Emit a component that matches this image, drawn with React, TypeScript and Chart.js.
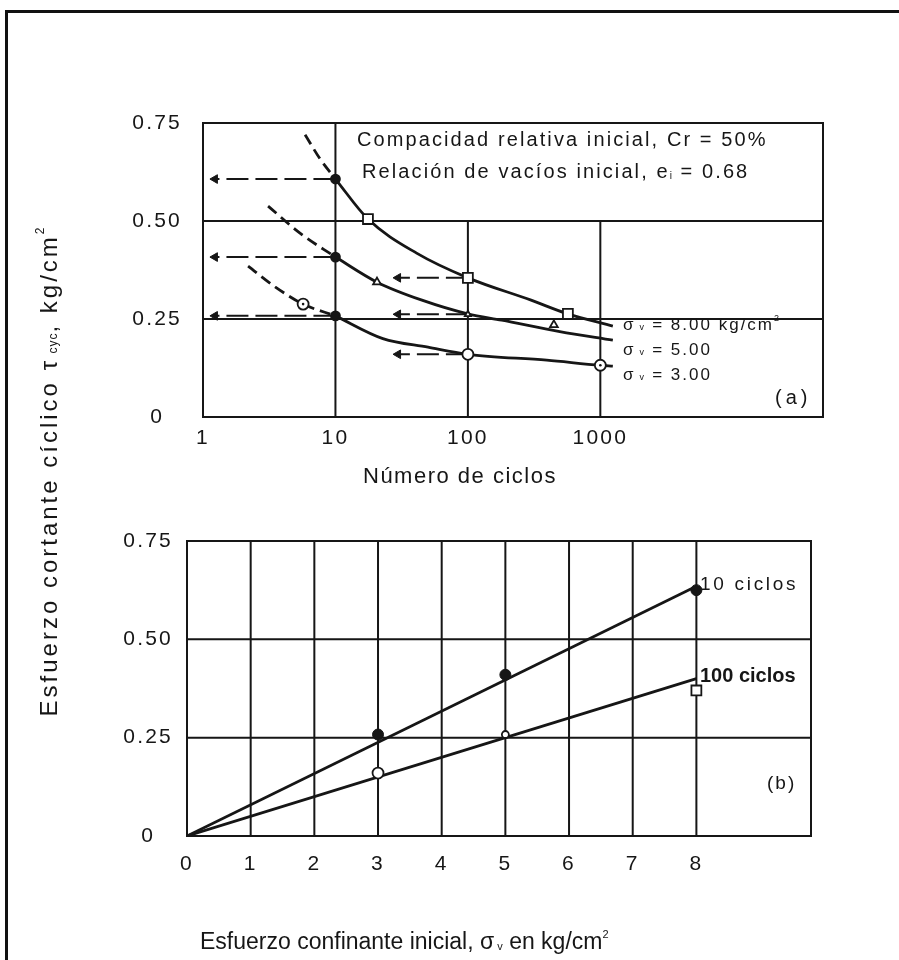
import React, { useEffect, useRef } from 'react';
import { Chart, registerables } from 'chart.js';

Chart.register(...registerables);

// ---------- shared ----------
const FONT = "'Liberation Sans', Arial, sans-serif";
const INK = '#161616';
const yTicks = [0, 0.25, 0.5, 0.75];

// ---------- (a) cyclic shear stress vs number of cycles ----------
const nTicks = [1, 10, 100, 1000];
const sigmaLabels = ['8.00', '5.00', '3.00'];

// sigma_v = 8.00
const s8DashN = [5.9, 7.6, 10];
const s8DashT = [0.72, 0.66, 0.607];
const s8N = [10, 17.6, 41, 100, 300, 569, 1243];
const s8T = [0.607, 0.505, 0.418, 0.355, 0.298, 0.263, 0.232];
// sigma_v = 5.00
const s5DashN = [3.1, 5.4, 10];
const s5DashT = [0.538, 0.469, 0.408];
const s5N = [10, 20.6, 45, 100, 180, 494, 1243];
const s5T = [0.408, 0.344, 0.298, 0.263, 0.247, 0.218, 0.196];
// sigma_v = 3.00
const s3DashN = [2.19, 3.5, 5.7, 10];
const s3DashT = [0.385, 0.332, 0.288, 0.258];
const s3N = [10, 22.8, 50, 100, 394, 1000, 1243];
const s3T = [0.258, 0.2, 0.178, 0.16, 0.145, 0.132, 0.13];

// markers
const filledN = [10, 10, 10];
const filledT = [0.607, 0.408, 0.258];
const squareN = [17.6, 100, 569];
const squareT = [0.505, 0.355, 0.263];
const triangleN = [20.6, 100, 446];
const triangleT = [0.344, 0.262, 0.235];
const openCircleN = [5.7, 100, 1000];
const openCircleT = [0.288, 0.16, 0.132];
const dotN = [5.7, 1000];
const dotT = [0.288, 0.132];

// dashed arrows (read-off lines)
const arrowT = [0.607, 0.408, 0.258, 0.355, 0.262, 0.16];
const arrowFrom = [10, 10, 10, 100, 100, 100];
const arrowTo = [1.23, 1.23, 1.23, 29.7, 29.7, 29.7];

// ---------- (b) cyclic shear stress vs confining stress ----------
const sigmaTicks = [0, 1, 2, 3, 4, 5, 6, 7, 8];
const line10X = [0, 8];
const line10Y = [0, 0.635];
const line100X = [0, 8];
const line100Y = [0, 0.4];
const pts10X = [3, 5, 8];
const pts10Y = [0.258, 0.41, 0.625];
const pts100X = [3, 5, 8];
const pts100Y = [0.16, 0.258, 0.37];

const xy = (xs: number[], ys: number[]) => xs.map((x, i) => ({ x, y: ys[i] }));

type Part = { t: string; size: number; dy?: number; bold?: boolean; sp?: number };

function partsWidth(ctx: CanvasRenderingContext2D, parts: Part[]) {
  let w = 0;
  for (const p of parts) {
    ctx.font = `${p.bold ? 'bold ' : ''}${p.size}px ${FONT}`;
    (ctx as any).letterSpacing = `${p.sp ?? 0}px`;
    w += ctx.measureText(p.t).width;
  }
  return w;
}

function drawParts(ctx: CanvasRenderingContext2D, x: number, y: number, parts: Part[]) {
  let cx = x;
  for (const p of parts) {
    ctx.font = `${p.bold ? 'bold ' : ''}${p.size}px ${FONT}`;
    (ctx as any).letterSpacing = `${p.sp ?? 0}px`;
    ctx.fillText(p.t, cx, y + (p.dy ?? 0));
    cx += ctx.measureText(p.t).width;
  }
}

const spacing = (sp: string) => ({
  id: 'spacing',
  beforeUpdate(chart: any) {
    chart.ctx.letterSpacing = sp;
  },
  beforeDraw(chart: any) {
    chart.ctx.letterSpacing = sp;
  },
});

const gridA = {
  id: 'gridA',
  beforeDatasetsDraw(chart: any) {
    const { ctx, chartArea: ca, scales } = chart;
    const x = scales.x;
    const y = scales.y;
    ctx.save();
    ctx.strokeStyle = INK;
    ctx.lineWidth = 2;
    ctx.strokeRect(ca.left, ca.top, ca.right - ca.left, ca.bottom - ca.top);
    ctx.beginPath();
    for (const v of yTicks.slice(1, 3)) {
      const py = y.getPixelForValue(v);
      ctx.moveTo(ca.left, py);
      ctx.lineTo(ca.right, py);
    }
    const p10 = x.getPixelForValue(nTicks[1]);
    ctx.moveTo(p10, ca.top);
    ctx.lineTo(p10, ca.bottom);
    const yHalf = y.getPixelForValue(yTicks[2]);
    for (const v of nTicks.slice(2)) {
      const px = x.getPixelForValue(v);
      ctx.moveTo(px, yHalf);
      ctx.lineTo(px, ca.bottom);
    }
    ctx.stroke();
    ctx.restore();
  },
};

const textA = {
  id: 'textA',
  afterDraw(chart: any) {
    const ctx: CanvasRenderingContext2D = chart.ctx;
    ctx.save();
    ctx.fillStyle = INK;
    ctx.textBaseline = 'middle';
    ctx.textAlign = 'left';
    drawParts(ctx, 357, 140, [{ t: 'Compacidad relativa inicial, Cr = 50%', size: 20, sp: 2.1 }]);
    drawParts(ctx, 362, 172, [
      { t: 'Relación de vacíos inicial, e', size: 20, sp: 2.1 },
      { t: 'i', size: 10, dy: 4, sp: 1 },
      { t: ' = 0.68', size: 20, sp: 2.1 },
    ]);
    const ys = [325, 350, 375];
    sigmaLabels.forEach((val, i) => {
      const parts: Part[] = [
        { t: 'σ', size: 17, sp: 2 },
        { t: ' v', size: 9, dy: 3, sp: 1.5 },
        { t: ' = ' + val, size: 17, sp: 2 },
      ];
      if (i === 0) {
        parts.push({ t: ' kg/cm', size: 17, sp: 2 });
        parts.push({ t: '2', size: 9, dy: -6 });
      }
      drawParts(ctx, 623, ys[i], parts);
    });
    drawParts(ctx, 775, 398, [{ t: '(a)', size: 20, sp: 4 }]);
    drawParts(ctx, 363, 477, [{ t: 'Número de ciclos', size: 22, sp: 1.5 }]);

    // shared y-axis title (rotated)
    const yParts: Part[] = [
      { t: 'Esfuerzo cortante cíclico τ', size: 24, sp: 3 },
      { t: ' cyc', size: 12, dy: 4, sp: 1 },
      { t: ', kg/cm', size: 24, sp: 3 },
      { t: '2', size: 12, dy: -9 },
    ];
    ctx.translate(50, 472);
    ctx.rotate(-Math.PI / 2);
    const w = partsWidth(ctx, yParts);
    drawParts(ctx, -w / 2, 0, yParts);
    ctx.restore();
  },
};

const gridB = {
  id: 'gridB',
  beforeDatasetsDraw(chart: any) {
    const { ctx, chartArea: ca, scales } = chart;
    const x = scales.x;
    const y = scales.y;
    ctx.save();
    ctx.strokeStyle = INK;
    ctx.lineWidth = 2;
    ctx.strokeRect(ca.left, ca.top, ca.right - ca.left, ca.bottom - ca.top);
    ctx.beginPath();
    for (const v of yTicks.slice(1, 3)) {
      const py = y.getPixelForValue(v);
      ctx.moveTo(ca.left, py);
      ctx.lineTo(ca.right, py);
    }
    for (const v of sigmaTicks.slice(1)) {
      const px = x.getPixelForValue(v);
      ctx.moveTo(px, ca.top);
      ctx.lineTo(px, ca.bottom);
    }
    ctx.stroke();
    ctx.restore();
  },
};

const textB = {
  id: 'textB',
  afterDraw(chart: any) {
    const ctx: CanvasRenderingContext2D = chart.ctx;
    ctx.save();
    ctx.fillStyle = INK;
    ctx.textBaseline = 'middle';
    ctx.textAlign = 'left';
    drawParts(ctx, 700, 585, [{ t: '10 ciclos', size: 19, sp: 2.7 }]);
    drawParts(ctx, 700, 676, [{ t: '100 ciclos', size: 20, bold: true, sp: 0 }]);
    drawParts(ctx, 767, 784, [{ t: '(b)', size: 19, sp: 2 }]);
    drawParts(ctx, 200, 943, [
      { t: 'Esfuerzo confinante inicial, σ', size: 23, sp: 0 },
      { t: ' v', size: 11, dy: 4 },
      { t: ' en kg/cm', size: 23, sp: 0 },
      { t: '2', size: 11, dy: -8 },
    ]);
    ctx.restore();
  },
};

const yFmt = (v: any) => (Number(v) === 0 ? '0' : Number(v).toFixed(2));

function makeConfigA(): any {
  const curve = (xs: number[], ys: number[], dashed: boolean) => ({
    data: xy(xs, ys),
    borderColor: INK,
    borderWidth: 2.8,
    borderDash: dashed ? [11, 6] : [],
    pointRadius: 0,
    cubicInterpolationMode: 'monotone',
    fill: false,
  });
  const markers = (xs: number[], ys: number[], o: any) => ({
    data: xy(xs, ys),
    showLine: false,
    pointBorderColor: INK,
    pointBorderWidth: 1.8,
    ...o,
  });
  return {
    type: 'line',
    data: {
      datasets: [
        markers(dotN, dotT, { pointRadius: 1.3, pointBackgroundColor: INK, pointBorderWidth: 0 }),
        markers(filledN, filledT, { pointRadius: 4.5, pointBackgroundColor: INK }),
        markers(squareN, squareT, { pointRadius: 7, pointStyle: 'rect', pointBackgroundColor: '#fff' }),
        markers(triangleN, triangleT, { pointRadius: [4.5, 3.5, 4.5], pointStyle: 'triangle', pointBackgroundColor: '#fff' }),
        markers(openCircleN, openCircleT, { pointRadius: 5.5, pointBackgroundColor: '#fff' }),
        curve(s8N, s8T, false),
        curve(s8DashN, s8DashT, true),
        curve(s5N, s5T, false),
        curve(s5DashN, s5DashT, true),
        curve(s3N, s3T, false),
        curve(s3DashN, s3DashT, true),
        ...arrowT.map((t, i) => ({
          data: [
            { x: arrowFrom[i], y: t },
            { x: arrowTo[i], y: t },
          ],
          borderColor: INK,
          borderWidth: 2,
          borderDash: [22, 7],
          pointRadius: [0, 5],
          pointStyle: 'triangle',
          rotation: 270,
          pointBackgroundColor: INK,
          pointBorderColor: INK,
          pointBorderWidth: 1,
        })),
      ],
    },
    options: {
      responsive: false,
      animation: false,
      events: [],
      layout: { padding: { left: 113, right: 76, top: 123, bottom: 503 } },
      plugins: { legend: { display: false }, tooltip: { enabled: false } },
      scales: {
        x: {
          type: 'logarithmic',
          min: 1,
          max: 48000,
          afterBuildTicks: (s: any) => {
            s.ticks = nTicks.map((v) => ({ value: v }));
          },
          afterFit: (s: any) => {
            s.height = 40;
          },
          grid: { display: false, drawTicks: false },
          border: { display: false },
          ticks: {
            color: INK,
            font: { family: FONT, size: 21 },
            padding: 9,
            maxRotation: 0,
            autoSkip: false,
            callback: (v: any) => String(v),
          },
        },
        y: {
          type: 'linear',
          min: 0,
          max: 0.75,
          afterBuildTicks: (s: any) => {
            s.ticks = yTicks.map((v) => ({ value: v }));
          },
          afterFit: (s: any) => {
            s.width = 90;
          },
          grid: { display: false, drawTicks: false },
          border: { display: false },
          ticks: {
            color: INK,
            font: { family: FONT, size: 21 },
            padding: 21,
            crossAlign: 'center',
            callback: yFmt,
          },
        },
      },
    },
    plugins: [spacing('2.2px'), gridA, textA],
  };
}

function makeConfigB(): any {
  return {
    type: 'line',
    data: {
      datasets: [
        {
          data: xy(pts10X, pts10Y),
          showLine: false,
          pointRadius: 5.5,
          pointBackgroundColor: INK,
          pointBorderColor: INK,
        },
        {
          data: xy(pts100X, pts100Y),
          showLine: false,
          pointRadius: [5.5, 3.5, 7],
          pointStyle: ['circle', 'circle', 'rect'],
          pointBackgroundColor: '#fff',
          pointBorderColor: INK,
          pointBorderWidth: 1.8,
        },
        { data: xy(line10X, line10Y), borderColor: INK, borderWidth: 2.8, pointRadius: 0 },
        { data: xy(line100X, line100Y), borderColor: INK, borderWidth: 2.8, pointRadius: 0 },
      ],
    },
    options: {
      responsive: false,
      animation: false,
      events: [],
      layout: { padding: { left: 107, right: 88, top: 541, bottom: 84 } },
      plugins: { legend: { display: false }, tooltip: { enabled: false } },
      scales: {
        x: {
          type: 'linear',
          min: 0,
          max: 9.8,
          afterBuildTicks: (s: any) => {
            s.ticks = sigmaTicks.map((v) => ({ value: v }));
          },
          afterFit: (s: any) => {
            s.height = 40;
          },
          grid: { display: false, drawTicks: false },
          border: { display: false },
          ticks: {
            color: INK,
            font: { family: FONT, size: 21 },
            padding: 16,
            maxRotation: 0,
            autoSkip: false,
            callback: (v: any) => String(v),
          },
        },
        y: {
          type: 'linear',
          min: 0,
          max: 0.75,
          afterBuildTicks: (s: any) => {
            s.ticks = yTicks.map((v) => ({ value: v }));
          },
          afterFit: (s: any) => {
            s.width = 80;
          },
          grid: { display: false, drawTicks: false },
          border: { display: false },
          ticks: {
            color: INK,
            font: { family: FONT, size: 21 },
            padding: 14,
            crossAlign: 'center',
            callback: yFmt,
          },
        },
      },
    },
    plugins: [spacing('2.2px'), gridB, textB],
  };
}

export default function App() {
  const refA = useRef<HTMLCanvasElement>(null);
  const refB = useRef<HTMLCanvasElement>(null);
  useEffect(() => {
    const a = new Chart(refA.current as HTMLCanvasElement, makeConfigA());
    const b = new Chart(refB.current as HTMLCanvasElement, makeConfigB());
    return () => {
      a.destroy();
      b.destroy();
    };
  }, []);
  return (
    <div
      style={{
        position: 'absolute',
        left: 0,
        top: 0,
        width: 899,
        height: 960,
        overflow: 'hidden',
        background: '#fff',
      }}
    >
      <div
        style={{
          position: 'absolute',
          left: 5,
          top: 10,
          width: 940,
          height: 1000,
          borderTop: '3px solid #111',
          borderLeft: '3px solid #111',
        }}
      />
      <canvas ref={refB} width={899} height={960} style={{ position: 'absolute', left: 0, top: 0 }} />
      <canvas ref={refA} width={899} height={960} style={{ position: 'absolute', left: 0, top: 0 }} />
    </div>
  );
}
